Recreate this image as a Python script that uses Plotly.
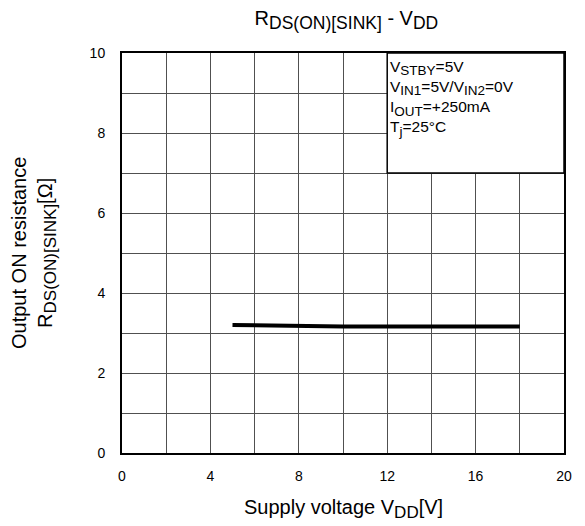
import plotly.graph_objects as go

vdd = [5, 6, 7, 8, 10, 12, 14, 16, 18]
rds = [3.20, 3.19, 3.17, 3.16, 3.16, 3.16, 3.16, 3.16, 3.16]

x_ticks = [0, 4, 8, 12, 16, 20]
y_ticks = [0, 2, 4, 6, 8, 10]


def sub(t, size):
    return '<sub><span style="font-size:%gpx">%s</span></sub>' % (size, t)


cond_lines = [
    "V" + sub("STBY", 13.5) + "=5V",
    "V" + sub("IN1", 13.5) + "=5V/V" + sub("IN2", 13.5) + "=0V",
    "I" + sub("OUT", 13.5) + "=+250mA",
    "T" + sub("j", 13.5) + "=25°C",
]

FONT = "Liberation Sans, Arial, sans-serif"
TITLE_SIZE = 20

fig = go.Figure()
fig.add_trace(go.Scatter(x=vdd, y=rds, mode="lines",
                         line=dict(color="black", width=4),
                         showlegend=False, hoverinfo="skip"))

grid_col = "#505050"
fig.update_xaxes(range=[0, 20], tickvals=x_ticks, ticktext=[str(v) for v in x_ticks],
                 showgrid=True, gridcolor=grid_col, gridwidth=1,
                 minor=dict(dtick=2, tick0=0, showgrid=True, gridcolor=grid_col, gridwidth=1),
                 showline=True, linecolor="black", linewidth=2, mirror=True,
                 zeroline=False, ticks="", ticklabelstandoff=9,
                 tickfont=dict(size=14, color="black", family=FONT))
fig.update_yaxes(range=[0, 10], tickvals=y_ticks, ticktext=[str(v) for v in y_ticks],
                 showgrid=True, gridcolor=grid_col, gridwidth=1,
                 minor=dict(dtick=1, tick0=0, showgrid=True, gridcolor=grid_col, gridwidth=1),
                 showline=True, linecolor="black", linewidth=2, mirror=True,
                 zeroline=False, ticks="", ticklabelstandoff=12,
                 tickfont=dict(size=14, color="black", family=FONT))

# conditions box
fig.add_shape(type="rect", x0=12, x1=20, y0=7, y1=10, xref="x", yref="y",
              fillcolor="white", line=dict(color="black", width=1.5), layer="above")
fig.add_annotation(x=12, y=10, xref="x", yref="y", xanchor="left", yanchor="top",
                   xshift=1, yshift=-3, align="left", showarrow=False,
                   text="<br>".join(cond_lines),
                   font=dict(size=15.5, color="black", family=FONT))

# axis titles
fig.add_annotation(x=0, y=0.5, xref="paper", yref="paper", xanchor="center", yanchor="middle",
                   xshift=-88, textangle=-90, showarrow=False, align="center",
                   text="Output ON resistance<br>R" + sub("DS(ON)[SINK]", 17) + "[Ω]",
                   font=dict(size=TITLE_SIZE, color="black", family=FONT))
fig.add_annotation(x=0.5, y=0, xref="paper", yref="paper", xanchor="center", yanchor="top",
                   yshift=-41, showarrow=False,
                   text="Supply voltage V" + sub("DD", 17) + "[V]",
                   font=dict(size=TITLE_SIZE, color="black", family=FONT))

fig.update_layout(
    width=577, height=518,
    margin=dict(l=114, r=21, t=45, b=73),
    paper_bgcolor="white", plot_bgcolor="white",
    title=dict(text="R" + sub("DS(ON)[SINK]", 17.5) + " - V" + sub("DD", 17.5),
               x=0.5865, xanchor="center", y=0.981, yanchor="middle",
               font=dict(size=TITLE_SIZE, color="black", family=FONT)),
)

fig.write_html("out.html")
